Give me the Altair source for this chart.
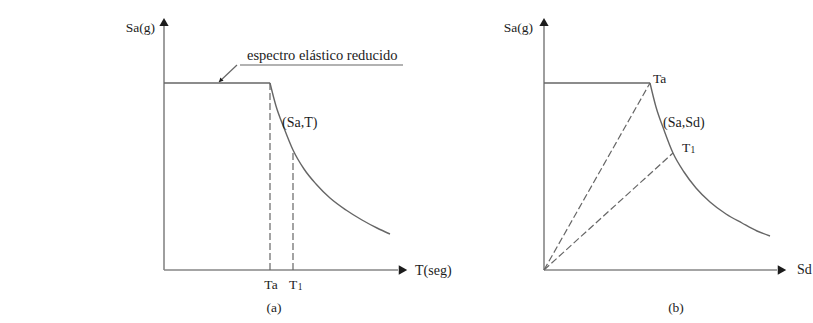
import altair as alt
import pandas as pd

# ---- (a) reduced elastic spectrum, Sa against period T ----
sa_plateau = 1.87          # plateau height
t_a = 1.06                 # corner period Ta
t_1 = 1.29                 # period T1 of the structure
sa_t1 = 1.20               # Sa read at T1
t_curve = [1.06, 1.12, 1.20, 1.29, 1.40, 1.52, 1.66, 1.82, 1.98, 2.13, 2.26]
sa_curve = [1.87, 1.64, 1.42, 1.20, 1.01, 0.86, 0.72, 0.60, 0.50, 0.42, 0.36]

# ---- (b) same spectrum in Sa–Sd format ----
sd_a = 1.06
sd_1 = 1.29
sa_1b = 1.17
sd_curve = [1.06, 1.12, 1.20, 1.29, 1.40, 1.52, 1.66, 1.82, 1.98, 2.13, 2.26]
sa_curve_b = [1.87, 1.63, 1.40, 1.17, 0.98, 0.82, 0.68, 0.56, 0.47, 0.39, 0.34]

FONT = "Liberation Serif"
AXIS_GREY = "#868686"
CURVE_GREY = "#666666"
INK = "#1c1c1c"
H = 323
Y_DOM = [-0.53, 2.70]


def make_panel(width, x_dom, curve_x, curve_y, plateau_end, dashed, texts,
               extra_lines=None, extra_marks=None):
    xs = alt.Scale(domain=x_dom, nice=False, zero=False)
    ys = alt.Scale(domain=Y_DOM, nice=False, zero=False)

    def X(f):
        return alt.X(f, type="quantitative", scale=xs, axis=None)

    def Y(f):
        return alt.Y(f, type="quantitative", scale=ys, axis=None)

    layers = []

    # coordinate axes
    axes = pd.DataFrame({
        "x": [0.0, 0.0], "x2": [2.34 if x_dom[1] > 2.8 else 2.33, 0.0],
        "y": [0.0, 0.0], "y2": [0.0, 2.44],
    })
    layers.append(alt.Chart(axes).mark_rule(color=AXIS_GREY, strokeWidth=1.6).encode(
        x=X("x"), x2="x2", y=Y("y"), y2="y2"))

    # arrowheads
    tip_x = 2.39 if x_dom[1] > 2.8 else 2.38
    layers.append(alt.Chart(pd.DataFrame({"x": [tip_x], "y": [0.0]}))
                  .mark_point(shape="triangle-right", filled=True, size=95,
                              color=INK, opacity=1)
                  .encode(x=X("x"), y=Y("y")))
    layers.append(alt.Chart(pd.DataFrame({"x": [0.0], "y": [2.48]}))
                  .mark_point(shape="triangle-up", filled=True, size=85,
                              color=INK, opacity=1)
                  .encode(x=X("x"), y=Y("y")))

    # plateau
    plateau = pd.DataFrame({"x": [0.0], "x2": [plateau_end],
                            "y": [sa_plateau]})
    layers.append(alt.Chart(plateau).mark_rule(color=CURVE_GREY, strokeWidth=1.4)
                  .encode(x=X("x"), x2="x2", y=Y("y")))

    # descending branch
    curve = pd.DataFrame({"x": curve_x, "y": curve_y,
                          "i": list(range(len(curve_x)))})
    layers.append(alt.Chart(curve).mark_line(color=CURVE_GREY, strokeWidth=1.4,
                                             interpolate="monotone")
                  .encode(x=X("x"), y=Y("y"), order="i"))

    # dashed construction lines
    layers.append(alt.Chart(dashed).mark_rule(color=CURVE_GREY, strokeWidth=1.2,
                                              strokeDash=[7, 3])
                  .encode(x=X("x"), x2="x2", y=Y("y"), y2="y2"))

    if extra_lines is not None:
        layers.append(alt.Chart(extra_lines).mark_rule(color=CURVE_GREY,
                                                       strokeWidth=1.2)
                      .encode(x=X("x"), x2="x2", y=Y("y"), y2="y2"))
    if extra_marks is not None:
        for m in extra_marks:
            layers.append(m(X, Y))

    for align in ["left", "center", "right"]:
        sub = texts[texts["align"] == align]
        if len(sub) == 0:
            continue
        layers.append(alt.Chart(sub).mark_text(align=align, baseline="middle",
                                               font=FONT, color=INK)
                      .encode(x=X("x"), y=Y("y"), text="label",
                              size=alt.Size("size", type="quantitative",
                                            scale=None, legend=None)))

    return alt.layer(*layers).properties(width=width, height=H)


# ---------- panel (a) ----------
dashed_a = pd.DataFrame({
    "x": [t_a, t_1], "x2": [t_a, t_1],
    "y": [0.0, 0.0], "y2": [sa_plateau, sa_t1],
})
texts_a = pd.DataFrame([
    {"x": -0.09, "y": 2.42, "label": "Sa(g)", "align": "right", "size": 13.5},
    {"x": 0.83, "y": 2.14, "label": "espectro elástico reducido", "align": "left", "size": 14.5},
    {"x": 1.18, "y": 1.47, "label": "(Sa,T)", "align": "left", "size": 14},
    {"x": 1.07, "y": -0.15, "label": "Ta", "align": "center", "size": 13.5},
    {"x": 1.29, "y": -0.15, "label": "T", "align": "center", "size": 13.5},
    {"x": 1.36, "y": -0.165, "label": "1", "align": "center", "size": 9.5},
    {"x": 1.10, "y": -0.38, "label": "(a)", "align": "center", "size": 13.5},
    {"x": 2.51, "y": -0.01, "label": "T(seg)", "align": "left", "size": 14},
])
# callout for the spectrum label
callout = pd.DataFrame({
    "x": [0.76, 0.73], "x2": [2.39, 0.55],
    "y": [2.05, 2.05], "y2": [2.05, 1.88],
})


def callout_head(X, Y):
    return (alt.Chart(pd.DataFrame({"x": [0.565], "y": [1.895]}))
            .mark_point(shape="triangle-up", angle=226, filled=True, size=22,
                        color=INK, opacity=1)
            .encode(x=X("x"), y=Y("y")))


panel_a = make_panel(470, [-1.64, 3.06], t_curve, sa_curve, t_a, dashed_a,
                     texts_a, extra_lines=callout, extra_marks=[callout_head])

# ---------- panel (b) ----------
dashed_b = pd.DataFrame({
    "x": [0.0, 0.0], "x2": [sd_a, sd_1],
    "y": [0.0, 0.0], "y2": [sa_plateau, sa_1b],
})
texts_b = pd.DataFrame([
    {"x": -0.11, "y": 2.42, "label": "Sa(g)", "align": "right", "size": 13.5},
    {"x": 1.09, "y": 1.91, "label": "Ta", "align": "left", "size": 13.5},
    {"x": 1.19, "y": 1.47, "label": "(Sa,Sd)", "align": "left", "size": 14},
    {"x": 1.38, "y": 1.22, "label": "T", "align": "left", "size": 13.5},
    {"x": 1.465, "y": 1.205, "label": "1", "align": "left", "size": 9.5},
    {"x": 2.53, "y": 0.0, "label": "Sd", "align": "left", "size": 14},
    {"x": 1.32, "y": -0.38, "label": "(b)", "align": "center", "size": 13.5},
])
panel_b = make_panel(343, [-0.74, 2.69], sd_curve, sa_curve_b, sd_a, dashed_b,
                     texts_b)

chart = (alt.hconcat(panel_a, panel_b, spacing=0)
         .properties(padding=0, background="white")
         .configure_view(stroke=None))

chart.save("out.html", embed_options={"renderer": "svg", "actions": False})
